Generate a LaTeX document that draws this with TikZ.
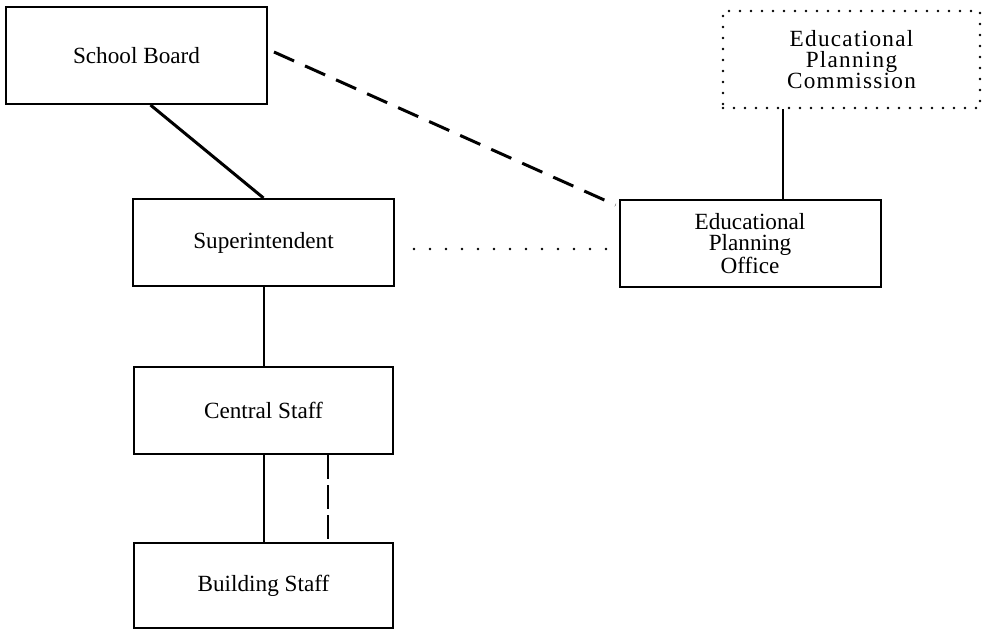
\documentclass[tikz,border=0pt]{standalone}
\usepackage{fontspec}
\setmainfont{Liberation Serif}
\usetikzlibrary{positioning, calc}
\tikzset{
    block/.style={rectangle, draw, line width=1pt, minimum width=130.5pt, minimum height=43.5pt, inner sep=0pt, align=center, font=\fontsize{11.6}{10.4}\selectfont},
    dotblock/.style={block, line width=1.4pt, dash pattern=on 0pt off 5.5pt, line cap=round},
    link/.style={line width=1pt},
    heavylink/.style={line width=1.5pt},
    dashlink/.style={line width=1.5pt, dash pattern=on 11pt off 6pt},
    vdashlink/.style={line width=1pt, dash pattern=on 12pt off 3pt},
    dotlink/.style={line width=1.4pt, dash pattern=on 0pt off 8pt, line cap=round},
}

\begin{document}
\begin{tikzpicture}[x=0.5pt, y=-0.5pt]
    \useasboundingbox (0,0) rectangle (982,628);
    % Line of authority
    \node[block, minimum height=48.5pt] (board) at (136.5,55.5) {School Board};
    \node[block] (super) at (263.5,242.5) {Superintendent};
    \node[block, below=39.5pt of super, minimum width=129.5pt] (central) {Central Staff};
    \node[block, below=43.5pt of central, minimum width=129.5pt, minimum height=42.5pt] (building) {Building Staff};
    
    % Planning side
    \node[block] (office) at (750,243.5) {Educational\\Planning\\Office};
    \node[dotblock, minimum width=128.5pt, minimum height=48.5pt, font=\fontsize{11.6}{10.4}\selectfont\addfontfeatures{LetterSpace=5.5}] (comm) at (851.5,59.5) {Educational\\Planning\\Commission};
    
    % Connections
    \draw[heavylink] ([xshift=7pt]board.south) -- (super.north);
    \draw[dashlink] ([xshift=3pt,yshift=1.75pt]board.east) -- ([xshift=-1.5pt,yshift=-3pt]office.north west);
    \draw[dotlink] ([xshift=9.5pt,yshift=-3.25pt]super.east) -- ([xshift=-4.5pt,yshift=-2.75pt]office.west);
    \draw[link] ([xshift=16.5pt]office.north) -- ([xshift=16.5pt]office.north |- comm.south);
    \draw[link] (super.south) -- (central.north);
    \draw[link] (central.south) -- (building.north);
    \draw[vdashlink] ([xshift=32pt]central.south) -- ([xshift=32pt]building.north);
\end{tikzpicture}
\end{document}
